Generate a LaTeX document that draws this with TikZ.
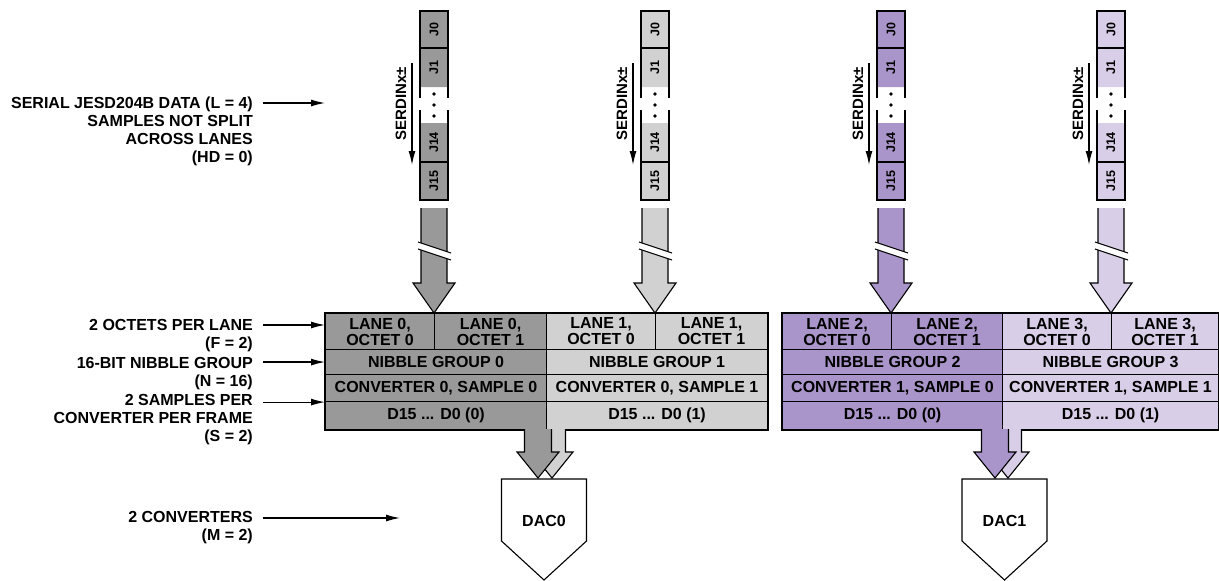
\documentclass[tikz,border=0pt]{standalone}
\usepackage{fontspec}
\setmainfont{Liberation Sans}
\usetikzlibrary{arrows.meta,calc}
\definecolor{lanezero}{RGB}{153,153,153}
\definecolor{laneone}{RGB}{209,209,209}
\definecolor{lanetwo}{RGB}{169,149,201}
\definecolor{lanethree}{RGB}{216,206,231}

\begin{document}
\begin{tikzpicture}[x=1pt,y=-1pt,
  every node/.style={inner sep=0pt, font=\bfseries\fontsize{16}{18}\selectfont},
  edge/.style={draw=black, line width=1.1pt},
  cell/.style={draw=black, line width=1.1pt, align=center, anchor=north west,
    font=\bfseries\fontsize{16}{16}\selectfont},
  jtag/.style={rotate=90, font=\bfseries\fontsize{12.5}{14}\selectfont},
  pointer/.style={line width=1.2pt, -{Latex[length=14pt,width=7pt]}},
  sidelbl/.style={align=right, anchor=north east}]
\useasboundingbox (0,0) rectangle (1219,581);

% lanes: serial strip, feed arrow, table column
\foreach \i/\xs/\xe/\col/\cv/\sm in {0/325/546/lanezero/0/0, 1/546/767/laneone/0/1,
    2/782/1002/lanetwo/1/0, 3/1002/1218/lanethree/1/1}{
  \pgfmathsetmacro{\xc}{\xs+109}
  \pgfmathsetmacro{\wb}{\xe-\xc}
  \pgfmathsetmacro{\wr}{\xe-\xs}
  % serial strip
  \fill[\col] (\xc-14,11) rectangle (\xc+14,87) (\xc-14,123) rectangle (\xc+14,200);
  \draw[edge] (\xc-14,98) -- (\xc-14,11) -- (\xc+14,11) -- (\xc+14,98);
  \draw[edge] (\xc-14,110) -- (\xc-14,200) -- (\xc+14,200) -- (\xc+14,110);
  \draw[edge] (\xc-14,48) -- (\xc+14,48) (\xc-14,162) -- (\xc+14,162);
  \node[jtag] (J0-\i) at (\xc,29.5) {J0};
  \node[jtag] (J1-\i) at (\xc,67.5) {J1};
  \node[jtag] (J14-\i) at (\xc,142.5) {J14};
  \node[jtag] (J15-\i) at (\xc,181) {J15};
  \foreach \d in {94,105,116}{
    \fill (\xc,\d) circle (1.8);
  }
  \node[rotate=90, font=\bfseries\fontsize{15}{16}\selectfont] (serdin\i) at (\xc-33,104) {SERDINx±};
  \coordinate (sin\i) at (\xc-22,63);
  \coordinate (sout\i) at (\xc-22,165);
  \draw[pointer] (sin\i) -- (sout\i);
  % feed arrow with break
  \filldraw[edge, fill=\col] (\xc-13,208) -- (\xc-13,283) -- (\xc-21,283) -- (\xc,313)
    -- (\xc+21,283) -- (\xc+13,283) -- (\xc+13,208);
  \fill[white] (\xc-16,242) -- (\xc+17,253) -- (\xc+17,260) -- (\xc-16,249) -- cycle;
  \draw[edge] (\xc-16,242) -- (\xc+17,253) (\xc-16,249) -- (\xc+17,260);
  % table column
  \node[cell, fill=\col, minimum width=109, minimum height=36] (octA\i) at (\xs,313) {LANE \i,\\OCTET 0};
  \node[cell, fill=\col, minimum width=\wb, minimum height=36] (octB\i) at (\xc,313) {LANE \i,\\OCTET 1};
  \node[cell, fill=\col, minimum width=\wr, minimum height=25] (nib\i) at (\xs,349) {NIBBLE GROUP \i};
  \node[cell, fill=\col, minimum width=\wr, minimum height=27] (conv\i) at (\xs,374) {CONVERTER \cv, SAMPLE \sm};
  \node[cell, fill=\col, minimum width=\wr, minimum height=28] (dat\i) at (\xs,401) {D15 ... D0 (\sm)};
}
\draw[line width=1.4pt] (octA0.north west) rectangle (dat1.south east);
\draw[line width=1.4pt] (octA2.north west) rectangle (dat3.south east);

% outputs to the converters
\newcommand{\dacfeed}[2]{%
  \filldraw[edge, fill=#2] (#1-13.5,429) -- (#1-13.5,452) -- (#1-21,452) -- (#1,478)
    -- (#1+21,452) -- (#1+13.5,452) -- (#1+13.5,429);}
\dacfeed{552}{laneone}
\dacfeed{538}{lanezero}
\dacfeed{1008}{lanethree}
\dacfeed{995}{lanetwo}

\draw[edge, fill=white] (501.5,479) -- (586.5,479) -- (586.5,541) -- (544,580) -- (501.5,541) -- cycle;
\node (dac0) at (544,521) {DAC0};
\draw[edge, fill=white] (962,479) -- (1047,479) -- (1047,541) -- (1004.5,580) -- (962,541) -- cycle;
\node (dac1) at (1004.5,521) {DAC1};

% side labels
\node[sidelbl] (lblL) at (253,97) {SERIAL JESD204B DATA (L = 4)\\SAMPLES NOT SPLIT\\ACROSS LANES\\(HD = 0)};
\node[sidelbl] (lblF) at (253,319) {2 OCTETS PER LANE\\(F = 2)};
\node[sidelbl] (lblN) at (253,357) {16-BIT NIBBLE GROUP\\(N = 16)};
\node[sidelbl] (lblS) at (253,394) {2 SAMPLES PER\\CONVERTER PER FRAME\\(S = 2)};
\node[sidelbl] (lblM) at (253,511) {2 CONVERTERS\\(M = 2)};

\coordinate (tipL) at (325,103);
\coordinate (tipF) at (octA0.west |- 0,325);
\coordinate (tipN) at (nib0.west);
\coordinate (tipS) at (conv0.south west);
\coordinate (tipM) at (400,518);
\foreach \k in {L,F,N,S,M}{
  \path (lbl\k.east |- tip\k) ++(10,0) coordinate (src\k);
  \draw[pointer] (src\k) -- (tip\k);
}
\end{tikzpicture}
\end{document}
